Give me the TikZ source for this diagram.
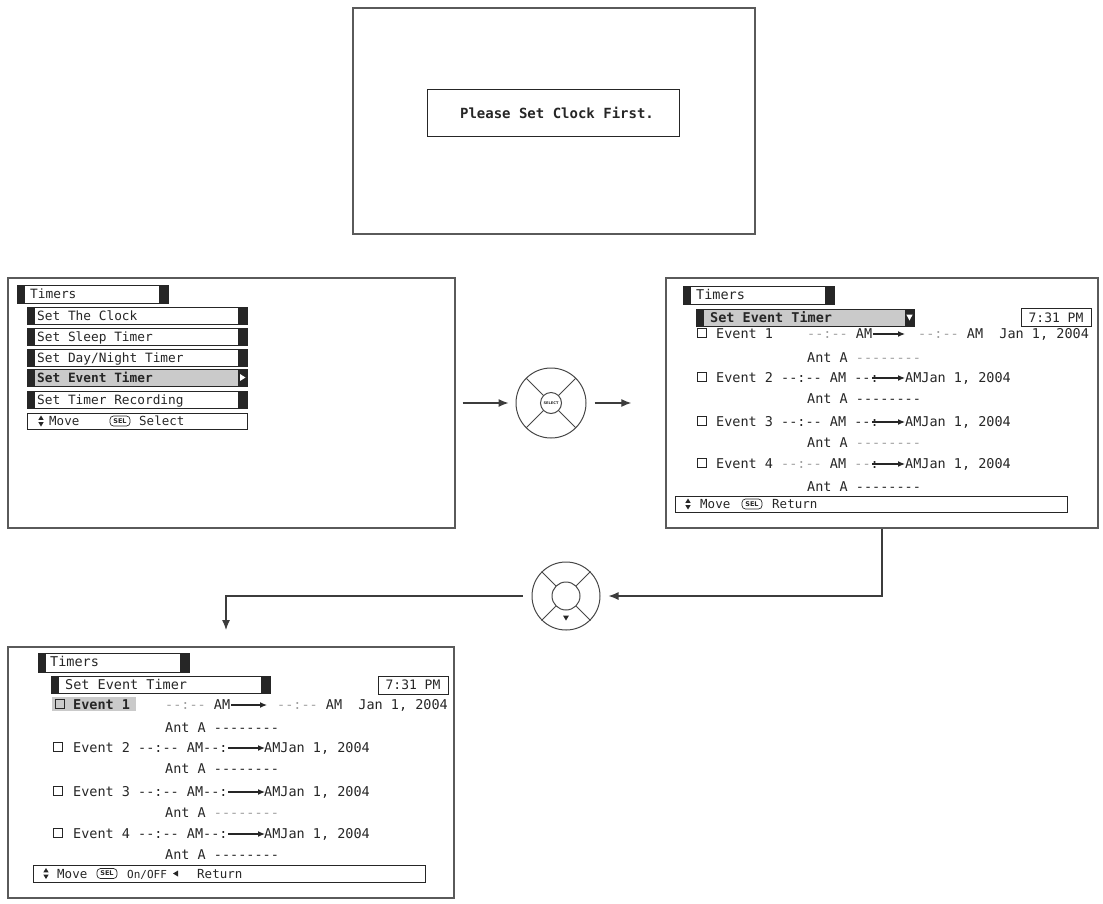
\documentclass[tikz,border=0pt]{standalone}
\usepackage{fontspec}
\newfontfamily\osd{DejaVu Sans Mono}
\newfontfamily\osdsans{DejaVu Sans}
\usetikzlibrary{arrows.meta}
\definecolor{ink}{HTML}{262626}
\definecolor{frame}{HTML}{5A5A5A}
\definecolor{hl}{HTML}{CACACA}
\definecolor{faint}{HTML}{A0A0A0}
\newcommand\hh{-\kern0pt}
\newcommand\tdash{\hh\hh:\hh\hh}
\newcommand\eightd{\hh\hh\hh\hh\hh\hh\hh\hh}
\newcommand\tx[5][]{\node[txt,#1] (#2) at (#3,#4) {#5};}
\newcommand\osdbar[5]{%
  \draw[ink, line width=0.9pt, fill=#5] (#1,#2) rectangle (#3,#4);
  \fill[ink] (#1,#2) rectangle ({#1+8},#4);
  \fill[ink] ({#3-9},#2) rectangle (#3,#4);}
\newcommand\updown[2]{%
  \fill[ink] ({#1-2.6},{#2-1.2}) -- ({#1+2.6},{#2-1.2}) -- (#1,{#2-5.5}) -- cycle;
  \fill[ink] ({#1-2.6},{#2+1.2}) -- ({#1+2.6},{#2+1.2}) -- (#1,{#2+5.5}) -- cycle;}
\newcommand\chk[2]{\draw[ink, line width=0.7pt] (#1,{#2-4.5}) rectangle ({#1+9},{#2+4.5});}
\tikzset{
  txt/.style={anchor=base west, inner sep=0pt, text=ink, font=\osd\fontsize{13.5}{15}\selectfont},
  lf/.style={font=\osd\fontsize{12.8}{14}\selectfont},
  lfb/.style={font=\osd\bfseries\fontsize{12.8}{14}\selectfont},
  mv/.style={font=\osd\fontsize{12.5}{14}\selectfont},
  mvs/.style={font=\osd\fontsize{11}{13}\selectfont},
  bd/.style={font=\osd\bfseries\fontsize{13.5}{15}\selectfont},
  screen/.style={draw=frame, line width=1.4pt, inner sep=0pt},
  selbox/.style={draw=ink, line width=0.7pt, rounded corners=3.5pt, inner sep=0pt, minimum width=20pt, minimum height=10pt, text=ink, font=\osdsans\bfseries\fontsize{6.5}{7}\selectfont},
  clockbox/.style={draw=ink, line width=0.8pt, inner sep=0pt, minimum width=70pt, minimum height=18pt, text=ink, font=\osd\fontsize{13}{14}\selectfont},
  dial/.style={circle, draw=ink!85, line width=1pt, inner sep=0pt},
  dialline/.style={draw=ink!85, line width=1pt},
  conn/.style={draw=ink!90, line width=1.2pt, -{Latex[length=10pt,width=8pt]}},
  sarr/.style={draw=ink, line width=1.2pt, -{Latex[length=7pt,width=6pt]}},
}
\begin{document}
\begin{tikzpicture}[x=1pt,y=-1pt]
\useasboundingbox (0,0) rectangle (1103,903);

% ---------- screens ----------
\node[screen, minimum width=402pt, minimum height=226pt] (sTop) at (554,121) {};
\node[screen, minimum width=447pt, minimum height=250pt] (sLeft) at (231.5,403) {};
\node[screen, minimum width=432pt, minimum height=250pt] (sRight) at (882,403) {};
\node[screen, minimum width=446pt, minimum height=251pt] (sBot) at (231,772.5) {};

% ---------- top screen ----------
\node[draw=ink, line width=1pt, minimum width=252pt, minimum height=47pt] (msgbox) at (553,112.5) {};
\node[inner sep=0pt, text=ink, font=\osd\bfseries\fontsize{14}{16}\selectfont] (msg) at (557,112.5) {Please Set Clock First.};

% ---------- left screen ----------
\osdbar{17}{285}{168}{303}{white}
\tx[lf]{lT}{30}{298.5}{Timers}
\osdbar{27}{307}{247}{324}{white}
\tx[lf]{l1}{37}{320}{Set The Clock}
\osdbar{27}{328}{247}{345}{white}
\tx[lf]{l2}{37}{341}{Set Sleep Timer}
\osdbar{27}{349}{247}{366}{white}
\tx[lf]{l3}{37}{362}{Set Day/Night Timer}
\osdbar{27}{369}{247}{386}{hl}
\fill[white] (240,374) -- (240,381) -- (245.5,377.5) -- cycle;
\tx[lfb]{l4}{37}{382}{Set Event Timer}
\osdbar{27}{391}{247}{408}{white}
\tx[lf]{l5}{37}{404}{Set Timer Recording}
\draw[ink, line width=0.9pt] (27,413) rectangle (247,429);
\updown{41}{421}
\tx[mv]{l6}{49}{425.5}{Move}
\node[selbox] (lsel) at (120,421) {SEL};
\tx[mv]{l7}{139}{425.5}{Select}

% ---------- dial 1 ----------
\node[dial, minimum size=70pt] (d1) at (551,403) {};
\node[dial, minimum size=21pt, text=ink, font=\osdsans\bfseries\fontsize{3.6}{4}\selectfont] (d1c) at (551,403) {SELECT};
\foreach \a in {45,135,225,315} \draw[dialline] (d1c.\a) -- (d1.\a);

% ---------- right screen ----------
\osdbar{683}{286}{834}{304}{white}
\tx{rT}{696}{299.5}{Timers}
\osdbar{696}{309}{914}{326}{hl}
\fill[white] (906.3,314.5) -- (912.7,314.5) -- (909.5,320.5) -- cycle;
\tx[bd]{rS}{710}{322}{Set Event Timer}
\node[clockbox] (rClock) at (1056,317.5) {7:31 PM};

\chk{697}{333}
\tx{r1a}{716}{338}{Event 1}
\tx{r1b}{807}{338}{{\color{faint}\tdash} AM}
\coordinate (r1s) at (873,334); \coordinate (r1e) at (905,334);
\draw[sarr] (r1s) -- (r1e);
\tx{r1c}{918}{338}{{\color{faint}\tdash} AM\ \ Jan 1, 2004}
\tx{r1d}{807}{362}{Ant A {\color{faint}\eightd}}

\chk{697}{377}
\tx{r2a}{716}{382}{Event 2 \tdash{} AM \hh\hh:}
\coordinate (r2s) at (872,378); \coordinate (r2e) at (905,378);
\draw[sarr] (r2s) -- (r2e);
\tx{r2c}{905}{382}{AMJan 1, 2004}
\tx{r2d}{807}{403}{Ant A \eightd}

\chk{697}{421}
\tx{r3a}{716}{426}{Event 3 \tdash{} AM \hh\hh:}
\coordinate (r3s) at (872,422); \coordinate (r3e) at (905,422);
\draw[sarr] (r3s) -- (r3e);
\tx{r3c}{905}{426}{AMJan 1, 2004}
\tx{r3d}{807}{447}{Ant A {\color{faint}\eightd}}

\chk{697}{463}
\tx{r4a}{716}{468}{Event 4 {\color{faint}\tdash} AM {\color{faint}\hh\hh}:}
\coordinate (r4s) at (872,464); \coordinate (r4e) at (905,464);
\draw[sarr] (r4s) -- (r4e);
\tx{r4c}{905}{468}{AMJan 1, 2004}
\tx{r4d}{807}{491}{Ant A \eightd}

\draw[ink, line width=0.9pt] (675,496) rectangle (1067,512);
\updown{688}{504}
\tx[mv]{r6}{700}{508.5}{Move}
\node[selbox] (rsel) at (752,504) {SEL};
\tx[mv]{r7}{772}{508.5}{Return}

% ---------- dial 2 ----------
\node[dial, minimum size=68pt] (d2) at (566,596) {};
\node[dial, minimum size=28pt] (d2c) at (566,596) {};
\foreach \a in {45,135,225,315} \draw[dialline] (d2c.\a) -- (d2.\a);
\fill[ink] (563,615.5) -- (569,615.5) -- (566,620.5) -- cycle;

% ---------- bottom screen ----------
\osdbar{38}{653}{189}{672}{white}
\tx{bT}{50}{666.5}{Timers}
\osdbar{51}{676}{270}{693}{white}
\tx{bS}{65}{689}{Set Event Timer}
\node[clockbox] (bClock) at (413,685) {7:31 PM};

\fill[hl] (52,697) rectangle (136,711);
\chk{55}{704}
\tx[bd]{b1a}{73}{709}{Event 1}
\tx{b1b}{165}{709}{{\color{faint}\tdash} AM}
\coordinate (b1s) at (231,705); \coordinate (b1e) at (267,705);
\draw[sarr] (b1s) -- (b1e);
\tx{b1c}{277}{709}{{\color{faint}\tdash} AM\ \ Jan 1, 2004}
\tx{b1d}{165}{732}{Ant A \eightd}

\chk{53}{747}
\tx{b2a}{73}{752}{Event 2 \tdash{} AM\hh\hh:}
\coordinate (b2s) at (228,748); \coordinate (b2e) at (265,748);
\draw[sarr] (b2s) -- (b2e);
\tx{b2c}{264}{752}{AMJan 1, 2004}
\tx{b2d}{165}{773}{Ant A \eightd}

\chk{53}{791}
\tx{b3a}{73}{796}{Event 3 \tdash{} AM\hh\hh:}
\coordinate (b3s) at (228,792); \coordinate (b3e) at (265,792);
\draw[sarr] (b3s) -- (b3e);
\tx{b3c}{264}{796}{AMJan 1, 2004}
\tx{b3d}{165}{817}{Ant A {\color{faint}\eightd}}

\chk{53}{833}
\tx{b4a}{73}{838}{Event 4 \tdash{} AM\hh\hh:}
\coordinate (b4s) at (228,834); \coordinate (b4e) at (265,834);
\draw[sarr] (b4s) -- (b4e);
\tx{b4c}{264}{838}{AMJan 1, 2004}
\tx{b4d}{165}{859}{Ant A \eightd}

\draw[ink, line width=0.9pt] (33,865) rectangle (425,882);
\updown{46}{873.5}
\tx[mv]{b6}{57}{878}{Move}
\node[selbox] (bsel) at (107,873.5) {SEL};
\tx[mvs]{b7}{127}{878}{On/OFF}
\fill[ink] (173,873.5) -- (178,870.5) -- (178,876.5) -- cycle;
\tx[mv]{b8}{197}{878}{Return}

% ---------- connectors ----------
\draw[conn, shorten <=7pt, shorten >=7pt] (sLeft.east) -- (d1.west);
\draw[conn, shorten <=8pt, shorten >=34pt] (d1.east) -- (sRight.west);
\draw[conn, shorten >=8pt] (sRight.south) |- (d2.east);
\coordinate (bTip) at (226,630);
\draw[conn, shorten <=9pt] (d2.west) -| (bTip);
\end{tikzpicture}
\end{document}
